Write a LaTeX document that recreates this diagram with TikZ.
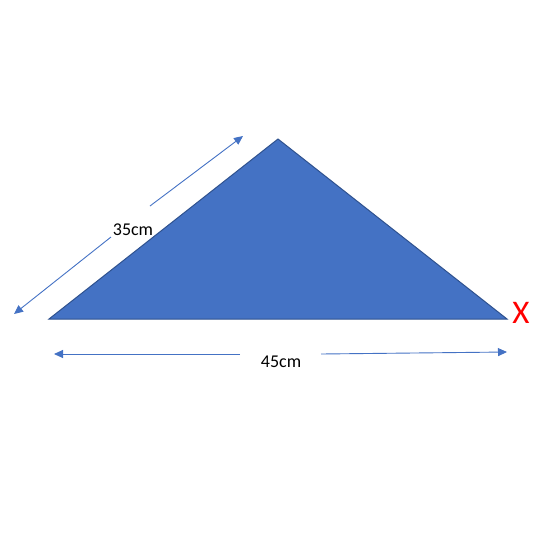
\documentclass[tikz,border=0pt]{standalone}
\usepackage{fontspec}
\setmainfont{Carlito}
\usetikzlibrary{arrows.meta}
\definecolor{triblue}{RGB}{68,114,196}
\definecolor{triedge}{RGB}{47,82,143}

\begin{document}
\begin{tikzpicture}[x=1pt,y=-1pt,
    dimline/.style={draw=triblue, line width=0.9pt, -{Triangle[length=9pt,width=8pt]}},
    dimlabel/.style={font=\fontsize{18}{20}\selectfont, inner sep=1pt}]
  \useasboundingbox (0,0) rectangle (554,541);
  % triangle
  \coordinate (left) at (49,319);
  \coordinate (apex) at (278,139);
  \coordinate (right) at (507,319);
  \draw[fill=triblue, draw=triedge, line width=1pt] (left) -- (apex) -- (right) -- cycle;
  \node[text=red, font=\fontsize{33}{36}\selectfont, inner sep=0pt] (mark) at (521,313) {X};
  % slanted side
  \node[dimlabel] (side) at (133,230) {35cm};
  \coordinate (side-a) at (150,206);
  \coordinate (side-b) at (111,237);
  \coordinate (side-top) at (243,136);
  \coordinate (side-low) at (14,314);
  \draw[dimline] (side-a) -- (side-top);
  \draw[dimline] (side-b) -- (side-low);
  % base
  \node[dimlabel] (base) at (281,362) {45cm};
  \coordinate (base-a) at (240,354);
  \coordinate (base-b) at (321,354);
  \coordinate (base-left) at (54,354);
  \coordinate (base-right) at (507,352);
  \draw[dimline] (base-a) -- (base-left);
  \draw[dimline] (base-b) -- (base-right);
\end{tikzpicture}
\end{document}
